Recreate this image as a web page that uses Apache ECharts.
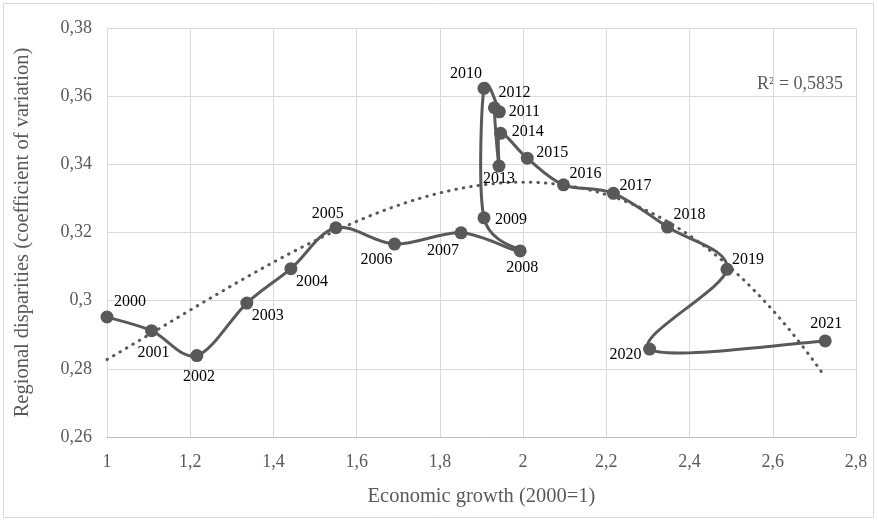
<!DOCTYPE html>
<html><head><meta charset="utf-8">
<script src="https://cdn.jsdelivr.net/npm/echarts@6/dist/echarts.min.js"></script>
<style>html,body{margin:0;padding:0;background:#fff}#c{width:878px;height:522px}</style>
</head><body><div id="c"></div>
<script>
const years = ['2000','2001','2002','2003','2004','2005','2006','2007','2008','2009','2010','2011','2012','2013','2014','2015','2016','2017','2018','2019','2020','2021'];
const growth = [1.000,1.107,1.216,1.336,1.442,1.550,1.691,1.851,1.993,1.906,1.906,1.943,1.931,1.942,1.946,2.010,2.097,2.217,2.347,2.490,2.304,2.726];
const disparity = [0.2952,0.2912,0.2839,0.2993,0.3094,0.3214,0.3166,0.3199,0.3146,0.3243,0.3623,0.3554,0.3566,0.3395,0.3491,0.3418,0.3340,0.3315,0.3216,0.3092,0.2858,0.2882];
const xTicks = {min:1, max:2.8, step:0.2};
const yTicks = {min:0.26, max:0.38, step:0.02};
const rSquaredText = 'R² = 0,5835';
// label placement (offset of label centre from point, px)
const labelOffsets = [[23,-15],[2,22],[2,21],[21,13],[21,13],[-8,-14],[-18,16],[-18,18],[2,17],[27,2],[-18,-15],[25,0],[20,-15],[0,13],[27,-2],[25,-5],[22,-11],[22,-8],[22,-12],[21,-10],[-24,6],[1,-17]];

// polynomial least-squares trendline (order 3), as in the original chart
const ORDER = 3;
function fitPoly(xs, ys, n){
  const m=n+1, A=[];
  for(let r=0;r<m;r++){A.push(new Array(m+1).fill(0));}
  for(let i=0;i<xs.length;i++){
    for(let r=0;r<m;r++){for(let c=0;c<m;c++)A[r][c]+=Math.pow(xs[i],r+c);A[r][m]+=Math.pow(xs[i],r)*ys[i];}
  }
  for(let i=0;i<m;i++){let p=i;for(let j=i+1;j<m;j++)if(Math.abs(A[j][i])>Math.abs(A[p][i]))p=j;[A[i],A[p]]=[A[p],A[i]];
    for(let j=i+1;j<m;j++){const f=A[j][i]/A[i][i];for(let k=i;k<=m;k++)A[j][k]-=f*A[i][k];}}
  const c=new Array(m).fill(0);
  for(let i=m-1;i>=0;i--){let s=A[i][m];for(let k=i+1;k<m;k++)s-=A[i][k]*c[k];c[i]=s/A[i][i];}
  return c;
}
const coef = fitPoly(growth, disparity, ORDER);
const evalP = x => coef.reduce((s,c,k)=>s+c*Math.pow(x,k),0);
const xMinD = Math.min(...growth), xMaxD = Math.max(...growth);
const trend = [];
for(let i=0;i<=120;i++){const x=xMinD+(xMaxD-xMinD)*i/120;trend.push([x,evalP(x)]);}

const fmt = v => String(+v.toFixed(2)).replace('.',',');
const font = '"Liberation Serif","Times New Roman",serif';
const grey = '#595959';
const N = growth.length;
const pairs = growth.map((x,i)=>[x,disparity[i]]);
const pts = growth.map((x,i)=>({value:[x,disparity[i]],label:{offset:labelOffsets[i]}}));

// smoothed connecting line (Catmull-Rom style Bezier segments, like a spreadsheet "smoothed line")
function renderSegment(params, api){
  const i = params.dataIndex;
  if(i >= N-1) return null;
  const P = j => { const k = Math.max(0, Math.min(N-1, j)); return api.coord([growth[k], disparity[k]]); };
  const p0=P(i-1), p1=P(i), p2=P(i+1), p3=P(i+2);
  const t = 1/6;
  return {type:'bezierCurve',
    shape:{x1:p1[0],y1:p1[1],x2:p2[0],y2:p2[1],
      cpx1:p1[0]+(p2[0]-p0[0])*t, cpy1:p1[1]+(p2[1]-p0[1])*t,
      cpx2:p2[0]-(p3[0]-p1[0])*t, cpy2:p2[1]-(p3[1]-p1[1])*t},
    style:{stroke:grey,lineWidth:3,fill:null,lineCap:'round'}};
}

const chart = echarts.init(document.getElementById('c'));
chart.setOption({
  animation:false,
  grid:{left:107,right:22,top:28,bottom:85},
  xAxis:{type:'value',min:xTicks.min,max:xTicks.max,interval:xTicks.step,
    name:'Economic growth (2000=1)',nameLocation:'middle',nameGap:49,
    nameTextStyle:{fontFamily:font,fontSize:20.5,color:grey},
    axisLine:{show:true,lineStyle:{color:'#bfbfbf',width:1}},axisTick:{show:false},
    axisLabel:{formatter:fmt,fontFamily:font,fontSize:18,color:grey,margin:16},
    splitLine:{show:true,lineStyle:{color:'#d9d9d9',width:1}}},
  yAxis:{type:'value',min:yTicks.min,max:yTicks.max,interval:yTicks.step,
    name:'Regional disparities (coefficient of variation)',nameLocation:'middle',nameGap:74,
    nameTextStyle:{fontFamily:font,fontSize:20.5,color:grey},
    axisLine:{show:true,lineStyle:{color:'#d9d9d9',width:1}},axisTick:{show:false},
    axisLabel:{formatter:fmt,fontFamily:font,fontSize:18,color:grey,margin:15},
    splitLine:{show:true,lineStyle:{color:'#d9d9d9',width:1}}},
  graphic:[
    {type:'rect',shape:{x:3.5,y:3.5,width:870,height:514},style:{fill:'none',stroke:'#d9d9d9',lineWidth:1},silent:true},
    {type:'text',left:757,top:75,style:{text:rSquaredText,font:'18px '+font,fill:grey}}
  ],
  series:[
    {type:'line',data:trend,showSymbol:false,symbol:'none',z:1,
      lineStyle:{color:grey,width:3,type:[0.5,7],cap:'round'}},
    {type:'custom',data:pairs,encode:{x:0,y:1},renderItem:renderSegment,z:2,clip:false},
    {type:'scatter',data:pts,symbol:'circle',symbolSize:13,z:3,
      itemStyle:{color:grey,opacity:1},
      label:{show:true,position:'inside',formatter:p=>years[p.dataIndex],
        fontFamily:font,fontSize:16,color:'#000'}}
  ]
});
</script></body></html>
